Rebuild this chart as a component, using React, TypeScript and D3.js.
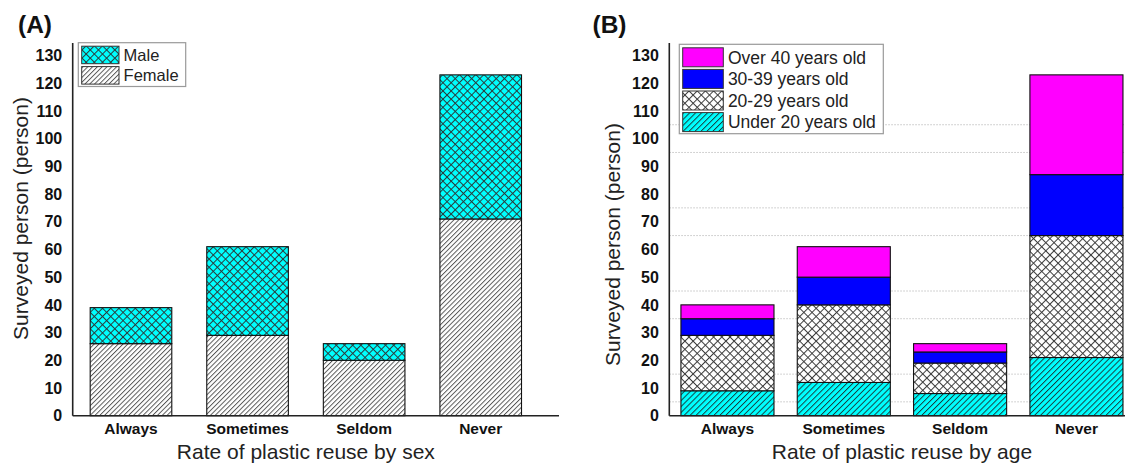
import React from 'react';
import * as d3 from 'd3';

// Survey responses: how often people reuse plastic
const categories = ['Always', 'Sometimes', 'Seldom', 'Never'];

// Panel A: by sex (stacked bottom -> top)
const female = [26, 29, 20, 71];
const male = [13, 32, 6, 52];

// Panel B: by age group (stacked bottom -> top)
const under20 = [9, 12, 8, 21];
const age20to29 = [20, 28, 11, 44];
const age30to39 = [6, 10, 4, 22];
const over40 = [5, 11, 3, 36];

const yTicks = [0, 10, 20, 30, 40, 50, 60, 70, 80, 90, 100, 110, 120, 130];
const gridValuesB = [5, 15, 35, 45, 65, 75, 95, 105];

const W = 1125;
const H = 465;
const FONT = '"Liberation Sans", Arial, Helvetica, sans-serif';

const Y_BOTTOM = 415.7;
const Y_TOP = 43;
const y = d3.scaleLinear().domain([0, 134.5]).range([Y_BOTTOM, Y_TOP]);

type Layer = { key: string; label: string; values: number[]; fill: string };

const CYAN = '#00ffff';
const BLUE = '#0000ff';
const MAGENTA = '#ff00ff';

function Patterns() {
  return (
    <defs>
      <pattern id="crossCyan" patternUnits="userSpaceOnUse" width={5.8} height={5.8} patternTransform="rotate(45)">
        <rect width={5.8} height={5.8} fill={CYAN} />
        <line x1={0.5} y1={0} x2={0.5} y2={5.8} stroke="#2b3b3b" strokeWidth={1} />
        <line x1={0} y1={0.5} x2={5.8} y2={0.5} stroke="#2b3b3b" strokeWidth={1} />
      </pattern>
      <pattern id="crossWhite" patternUnits="userSpaceOnUse" width={5.8} height={5.8} patternTransform="rotate(45)">
        <rect width={5.8} height={5.8} fill="#ffffff" />
        <line x1={0.5} y1={0} x2={0.5} y2={5.8} stroke="#3c3c3c" strokeWidth={1} />
        <line x1={0} y1={0.5} x2={5.8} y2={0.5} stroke="#3c3c3c" strokeWidth={1} />
      </pattern>
      <pattern id="hatchWhite" patternUnits="userSpaceOnUse" width={3.4} height={3.4} patternTransform="rotate(45)">
        <rect width={3.4} height={3.4} fill="#ffffff" />
        <line x1={0.5} y1={0} x2={0.5} y2={3.4} stroke="#4a4a4a" strokeWidth={0.9} />
      </pattern>
      <pattern id="hatchCyan" patternUnits="userSpaceOnUse" width={4.2} height={4.2} patternTransform="rotate(45)">
        <rect width={4.2} height={4.2} fill={CYAN} />
        <line x1={0.5} y1={0} x2={0.5} y2={4.2} stroke="#183030" strokeWidth={0.9} />
      </pattern>
    </defs>
  );
}

type PanelProps = {
  left: number;
  right: number;
  padding: number;
  layers: Layer[];
  xTitle: string;
  yTitleX: number;
  yTitleY: number;
  grid?: number[];
  gridRight?: number;
};

function StackedPanel({ left, right, padding, layers, xTitle, yTitleX, yTitleY, grid, gridRight }: PanelProps) {
  const x = d3.scaleBand<string>().domain(categories).range([left, right]).paddingInner(padding).paddingOuter(padding / 2);
  const rows = categories.map((c, i) => {
    const r: Record<string, number | string> = { cat: c };
    layers.forEach((l) => (r[l.key] = l.values[i]));
    return r;
  });
  const stacked = d3.stack<Record<string, number | string>>().keys(layers.map((l) => l.key))(rows as any);
  const bw = x.bandwidth();
  const axisRight = Math.min(right, W);
  return (
    <g>
      {grid &&
        grid.map((g) => (
          <line
            key={`g${g}`}
            x1={left}
            x2={gridRight ?? right}
            y1={y(g)}
            y2={y(g)}
            stroke="#c4c4c4"
            strokeWidth={1}
            strokeDasharray="1.5 1.5"
          />
        ))}
      {stacked.map((s, li) => (
        <g key={s.key}>
          {s.map((d, i) => (
            <rect
              key={categories[i]}
              x={x(categories[i])}
              y={y(d[1])}
              width={bw}
              height={y(d[0]) - y(d[1])}
              fill={layers[li].fill}
              stroke="#111"
              strokeWidth={1.1}
            />
          ))}
        </g>
      ))}
      {/* axes */}
      <line x1={left} x2={left} y1={Y_TOP} y2={Y_BOTTOM} stroke="#222" strokeWidth={1.6} />
      <line x1={left} x2={axisRight + 20} y1={Y_BOTTOM} y2={Y_BOTTOM} stroke="#222" strokeWidth={1.6} />
      {yTicks.map((t) => (
        <text
          key={t}
          x={left - 10.5}
          y={y(t)}
          dy="0.36em"
          textAnchor="end"
          fontFamily={FONT}
          fontWeight="bold"
          fontSize={16}
          fill="#111"
        >
          {t}
        </text>
      ))}
      {categories.map((c) => (
        <text
          key={c}
          x={(x(c) as number) + bw / 2}
          y={433.5}
          textAnchor="middle"
          fontFamily={FONT}
          fontWeight="bold"
          fontSize={15.5}
          fill="#111"
        >
          {c}
        </text>
      ))}
      <text
        x={(left + right) / 2}
        y={459}
        textAnchor="middle"
        fontFamily={FONT}
        fontSize={21}
        fill="#222"
      >
        {xTitle}
      </text>
      <text
        transform={`translate(${yTitleX},${yTitleY}) rotate(-90)`}
        textAnchor="middle"
        fontFamily={FONT}
        fontSize={21}
        fill="#222"
      >
        Surveyed person (person)
      </text>
    </g>
  );
}

function Legend({ x, y: top, w, rows, swatchW, swatchH, pitch, fontSize }: {
  x: number;
  y: number;
  w: number;
  rows: Layer[];
  swatchW: number;
  swatchH: number;
  pitch: number;
  fontSize: number;
}) {
  const h = rows.length * pitch + 3;
  return (
    <g>
      <rect x={x} y={top} width={w} height={h} fill="#fff" stroke="#9a9a9a" strokeWidth={1.2} />
      {rows.map((r, i) => (
        <g key={r.key}>
          <rect
            x={x + 3.4}
            y={top + 3.5 + i * pitch}
            width={swatchW}
            height={swatchH}
            fill={r.fill}
            stroke="#333"
            strokeWidth={1}
          />
          <text
            x={x + swatchW + 8}
            y={top + 3.5 + i * pitch + swatchH / 2}
            dy="0.36em"
            fontFamily={FONT}
            fontSize={fontSize}
            fill="#222"
          >
            {r.label}
          </text>
        </g>
      ))}
    </g>
  );
}

export default function App() {
  const sexLayers: Layer[] = [
    { key: 'female', label: 'Female', values: female, fill: 'url(#hatchWhite)' },
    { key: 'male', label: 'Male', values: male, fill: 'url(#crossCyan)' },
  ];
  const ageLayers: Layer[] = [
    { key: 'u20', label: 'Under 20 years old', values: under20, fill: 'url(#hatchCyan)' },
    { key: 'a20', label: '20-29 years old', values: age20to29, fill: 'url(#crossWhite)' },
    { key: 'a30', label: '30-39 years old', values: age30to39, fill: BLUE },
    { key: 'o40', label: 'Over 40 years old', values: over40, fill: MAGENTA },
  ];
  return (
    <svg
      width={W}
      height={H}
      viewBox={`0 0 ${W} ${H}`}
      style={{ position: 'absolute', left: 0, top: 0, display: 'block', background: '#fff' }}
    >
      <Patterns />
      <rect width={W} height={H} fill="#fff" />

      <text x={18} y={33} fontFamily={FONT} fontWeight="bold" fontSize={24.5} fill="#111">(A)</text>
      <StackedPanel
        left={72.7}
        right={539}
        padding={0.3}
        layers={sexLayers}
        xTitle="Rate of plastic reuse by sex"
        yTitleX={27.5}
        yTitleY={218.5}
      />
      <Legend
        x={78.3}
        y={42.7}
        w={107.4}
        rows={[...sexLayers].reverse()}
        swatchW={37.3}
        swatchH={17.5}
        pitch={20.4}
        fontSize={16.5}
      />

      <text x={592.5} y={33} fontFamily={FONT} fontWeight="bold" fontSize={24.5} fill="#111">(B)</text>
      <StackedPanel
        left={669.3}
        right={1134.6}
        padding={0.2}
        layers={ageLayers}
        xTitle="Rate of plastic reuse by age"
        yTitleX={620}
        yTitleY={244.5}
        grid={gridValuesB}
        gridRight={W}
      />
      <Legend
        x={679.3}
        y={44.3}
        w={204}
        rows={[...ageLayers].reverse()}
        swatchW={40.6}
        swatchH={19}
        pitch={21.6}
        fontSize={17.5}
      />
    </svg>
  );
}
